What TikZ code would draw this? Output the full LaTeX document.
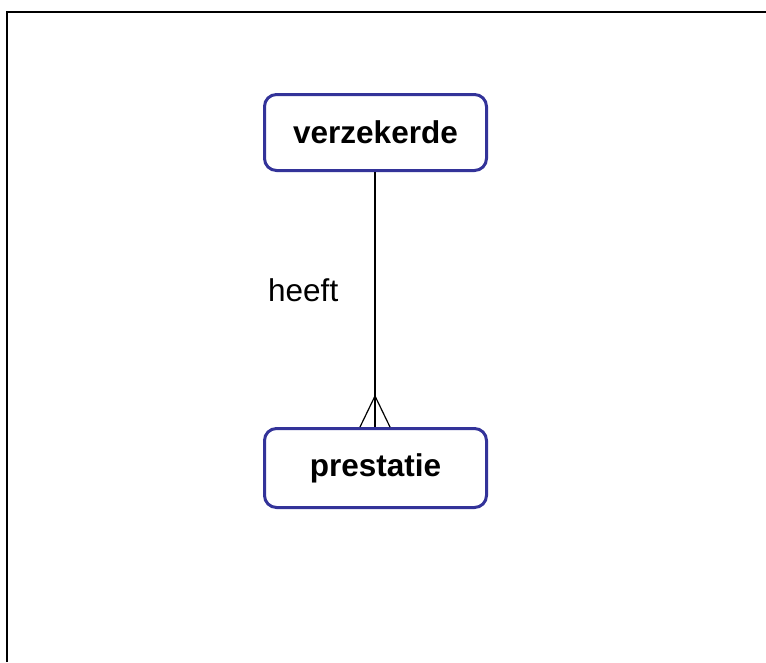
\documentclass[tikz,border=0pt]{standalone}
\usepackage{fontspec}
\setmainfont{Liberation Sans}
\usetikzlibrary{calc}
\definecolor{entityblue}{RGB}{51,51,153}
\tikzset{
  entity/.style={draw=entityblue, line width=3pt, rounded corners=12pt,
    minimum width=222pt, inner sep=0pt, fill=white,
    font=\fontsize{31.5}{37}\selectfont\bfseries},
  relline/.style={line width=1.2pt, draw=black},
  frameline/.style={line width=2.2pt, draw=black},
  rellabel/.style={font=\fontsize{31.5}{37}\selectfont, inner sep=0pt, anchor=base west}
}
\begin{document}
\begin{tikzpicture}[x=1pt,y=-1pt]
  \useasboundingbox (0,0) rectangle (766,662);
  % page frame (left and top edges)
  \coordinate (fbl) at (7,662);
  \coordinate (ftl) at (7,12);
  \coordinate (ftr) at (766,12);
  \draw[frameline] (fbl) -- (ftl) -- (ftr);

  % entities
  \node[entity, minimum height=76pt] (verzekerde) at (375.5,132.5) {verzekerde};
  \node[entity, minimum height=79pt] (prestatie) at (375.5,468) {prestatie};

  % relationship: one verzekerde has many prestaties (crow's foot)
  \coordinate (top) at ($(verzekerde.south)+(-0.5,0)$);
  \coordinate (bot) at ($(prestatie.north)+(-0.5,0)$);
  \coordinate (apex) at ($(bot)+(0,-31)$);
  \coordinate (footl) at ($(bot)+(-15,0)$);
  \coordinate (footr) at ($(bot)+(15,0)$);
  \draw[relline] (top) -- (bot);
  \draw[relline] (footl) -- (apex) -- (footr);

  \node[rellabel] (heeft) at (268,301.5) {heeft};
\end{tikzpicture}
\end{document}
